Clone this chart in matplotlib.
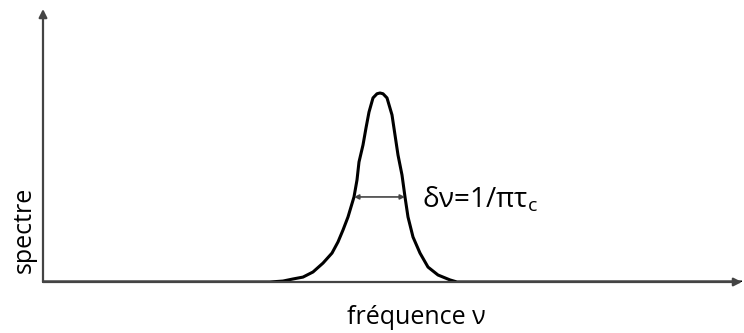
import matplotlib
matplotlib.use("Agg")
import matplotlib.pyplot as plt

plt.rcParams['font.family'] = ['Open Sans', 'DejaVu Sans']
plt.rcParams['mathtext.fontset'] = 'custom'
plt.rcParams['mathtext.rm'] = 'Open Sans'

# spectrum profile (frequency offset from centre, relative height)
nu = [-337, -110, -97, -87, -77, -67, -57, -48, -42, -37, -32, -26, -23,
      -21, -17, -14, -11, -7, -3, 0, 3, 7, 12, 15, 18, 22, 25, 28, 33,
      40, 48, 58, 70, 77, 362]
spectre = [0.0, 0.0, 0.005, 0.016, 0.026, 0.053, 0.10, 0.153, 0.212, 0.275,
           0.344, 0.450, 0.540, 0.635, 0.725, 0.815, 0.899, 0.974, 0.996,
           1.0, 0.996, 0.974, 0.884, 0.778, 0.672, 0.566, 0.450, 0.344,
           0.238, 0.153, 0.079, 0.037, 0.011, 0.0, 0.0]

# half-width marker
half_left, half_right, half_level = -26, 25, 0.450
width_label = r"δν=1/πτ$_\mathregular{c}$"

fig = plt.figure(figsize=(7.44, 3.33), dpi=100)
ax = fig.add_axes([43 / 744, 51 / 333, (742 - 43) / 744, (282 - 9) / 333])
ax.set_xlim(-337, 362)
ax.set_ylim(0, 273 / 189)
ax.axis('off')

axis_col = '#444444'
# axes with arrows
ax.annotate('', xy=(362, 0), xytext=(-337, 0),
            arrowprops=dict(arrowstyle='-|>', color=axis_col, lw=1.6,
                            mutation_scale=12, shrinkA=0, shrinkB=0))
ax.annotate('', xy=(-337, 273 / 189), xytext=(-337, 0),
            arrowprops=dict(arrowstyle='-|>', color=axis_col, lw=1.6,
                            mutation_scale=12, shrinkA=0, shrinkB=0))

ax.plot(nu, spectre, color='black', lw=2.2, solid_joinstyle='round')

ax.annotate('', xy=(half_right, half_level), xytext=(half_left, half_level),
            arrowprops=dict(arrowstyle='<|-|>', color=axis_col, lw=1.2,
                            mutation_scale=7, shrinkA=0, shrinkB=0))
ax.text(42, 0.435, width_label, fontsize=20, va='center', ha='left')

fig.text(24 / 744, 1 - 230 / 333, 'spectre', rotation=90, fontsize=18,
         ha='center', va='center')
fig.text(416 / 744, 1 - 317 / 333, 'fréquence ν', fontsize=18,
         ha='center', va='center')

fig.savefig('out.png', dpi=100)
